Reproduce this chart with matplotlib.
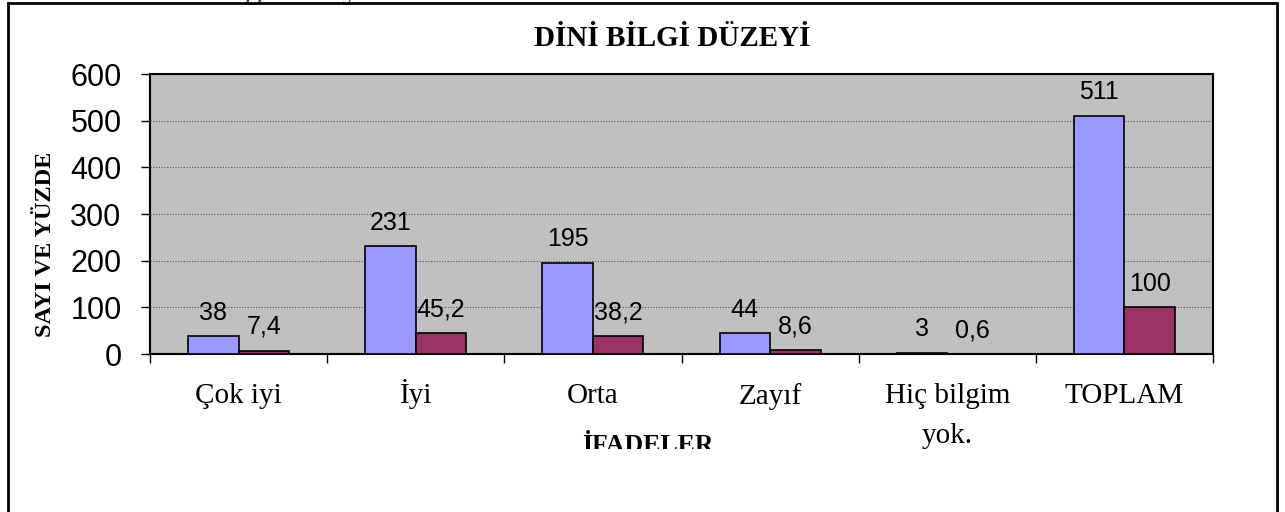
import matplotlib
matplotlib.use("Agg")
import matplotlib.pyplot as plt
from matplotlib.patches import Rectangle
from matplotlib.transforms import Bbox, ScaledTranslation
import numpy as np

# ---- data ----
categories = ['Çok iyi', 'İyi', 'Orta', 'Zayıf', 'Hiç bilgim\nyok.', 'TOPLAM']
counts = [38, 231, 195, 44, 3, 511]
percents = [7.4, 45.2, 38.2, 8.6, 0.6, 100]
yticks = [0, 100, 200, 300, 400, 500, 600]
title = 'DİNİ BİLGİ DÜZEYİ'
ylabel = 'SAYI VE YÜZDE'
xlabel = 'İFADELER'

W, H = 1285, 512
fig = plt.figure(figsize=(W / 100, H / 100), dpi=100)
fig.patch.set_facecolor('white')

def fx(px):
    return px / W

def fy(py):
    return 1 - py / H

ax = fig.add_axes([fx(150), fy(354), fx(1213) - fx(150), fy(74) - fy(354)])
ax.set_facecolor('#C0C0C0')

x = np.arange(len(categories)) + 0.5
bw = 0.285
ax.bar(x - bw / 2, counts, width=bw, color='#9999FF', edgecolor='black', linewidth=1.2, zorder=3)
ax.bar(x + bw / 2, percents, width=bw, color='#993366', edgecolor='black', linewidth=1.2, zorder=3)

def fmt(v):
    if float(v).is_integer():
        return str(int(v))
    return str(v).replace('.', ',')

for xi, v in zip(x - bw / 2, counts):
    ax.annotate(fmt(v), (xi, v), xytext=(0, 12), textcoords='offset points',
                ha='center', va='baseline', fontsize=18, family='Liberation Sans', zorder=4)
for xi, v in zip(x + bw / 2, percents):
    ax.annotate(fmt(v), (xi, v), xytext=(0, 12), textcoords='offset points',
                ha='center', va='baseline', fontsize=18, family='Liberation Sans', zorder=4)

ax.set_xlim(0, len(categories))
ax.set_ylim(0, 600)
ax.set_yticks(yticks)
ax.set_yticklabels([str(t) for t in yticks], fontsize=22, family='Liberation Sans')
ax.tick_params(axis='y', direction='out', length=6.5, width=1, pad=14, colors='black')

ax.set_xticks(np.arange(len(categories) + 1))
ax.set_xticklabels([])
ax.set_xticks(x, minor=True)
ax.set_xticklabels(categories, minor=True, fontsize=21, family='Liberation Serif', linespacing=1.69)
ax.tick_params(axis='x', which='major', direction='out', length=6.5, width=1)
ax.tick_params(axis='x', which='minor', length=0, pad=21)

# align single-line labels with a dotted capital on the same baseline
for lab in ax.get_xticklabels(minor=True):
    if '\n' not in lab.get_text() and lab.get_text().startswith('İ'):
        lab.set_verticalalignment('baseline')
        lab.set_transform(lab.get_transform() +
                          ScaledTranslation(0, -20 / 100, fig.dpi_scale_trans))

ax.yaxis.grid(True, color='#555555', linestyle=(0, (1, 1.5)), linewidth=0.8, zorder=1)
ax.set_axisbelow(True)
for s in ax.spines.values():
    s.set_color('black')
    s.set_linewidth(1.5)

# texts
fig.text(fx(672), fy(46), title, ha='center', va='baseline', fontsize=21,
         fontweight='bold', family='Liberation Serif')
fig.text(fx(46), fy(244), ylabel, ha='center', va='center', rotation=90, fontsize=17.5,
         fontweight='bold', family='Liberation Serif')
xl = fig.text(fx(648), fy(452), xlabel, ha='center', va='baseline', fontsize=18.5,
              fontweight='bold', family='Liberation Serif')
xl.set_clip_box(Bbox([[0, H - 449], [W, H]]))
xl.set_clip_on(True)

# fragment of text above the frame
fig.text(fx(210), fy(-2), 'bilgi düzeyi', ha='left', va='baseline', fontsize=24,
         family='Liberation Serif', color='#243F60')

# outer frame
fig.patches.append(Rectangle((fx(8), fy(530)), fx(1277) - fx(8), fy(3) - fy(530),
                             transform=fig.transFigure, fill=False, edgecolor='black',
                             linewidth=2, zorder=10))

fig.savefig('out.png', dpi=100, facecolor='white')
